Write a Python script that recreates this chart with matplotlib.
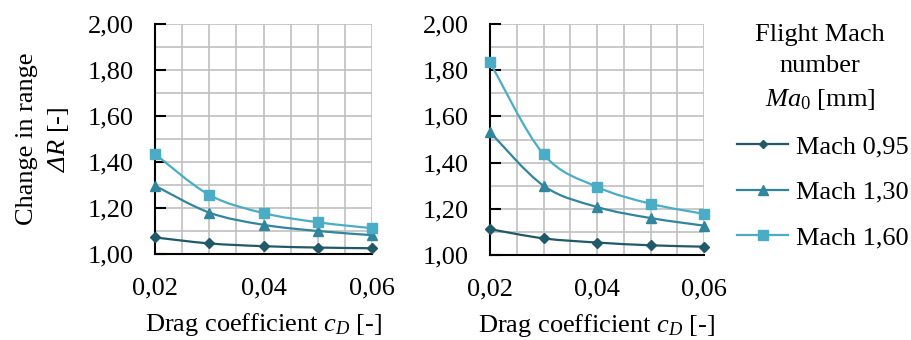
import numpy as np
import matplotlib.pyplot as plt
from matplotlib.path import Path
from matplotlib.patches import PathPatch
from matplotlib.ticker import MultipleLocator, FuncFormatter

plt.rcParams['font.family'] = ['Liberation Serif', 'DejaVu Serif']
plt.rcParams['mathtext.fontset'] = 'custom'
plt.rcParams['mathtext.rm'] = 'Liberation Serif'
plt.rcParams['mathtext.it'] = 'Liberation Serif:italic'
plt.rcParams['mathtext.sf'] = 'Liberation Serif:italic'  # used for the italic Delta

# drag coefficient
cd = [0.02, 0.03, 0.04, 0.05, 0.06]
series_names = ["Mach 0,95", "Mach 1,30", "Mach 1,60"]

# left chart
left_095 = [1.072, 1.046, 1.034, 1.028, 1.025]
left_130 = [1.297, 1.180, 1.127, 1.100, 1.082]
left_160 = [1.435, 1.257, 1.178, 1.138, 1.112]

# right chart
right_095 = [1.112, 1.072, 1.054, 1.042, 1.036]
right_130 = [1.532, 1.300, 1.208, 1.160, 1.127]
right_160 = [1.834, 1.436, 1.295, 1.222, 1.178]

colors = ["#215968", "#31859c", "#4bacc6"]
markers = ["D", "^", "s"]
msizes = [5.5, 7.5, 7.5]
FS = 19


def smooth_path(x, y, t=1/6):
    # bezier through the points (like excel smoothed lines)
    x = np.asarray(x); y = np.asarray(y)
    verts = [(x[0], y[0])]
    codes = [Path.MOVETO]
    n = len(x)
    for i in range(n - 1):
        i0 = max(i - 1, 0); i3 = min(i + 2, n - 1)
        c1 = (x[i] + (x[i+1] - x[i0]) * t, y[i] + (y[i+1] - y[i0]) * t)
        c2 = (x[i+1] - (x[i3] - x[i]) * t, y[i+1] - (y[i3] - y[i]) * t)
        verts += [c1, c2, (x[i+1], y[i+1])]
        codes += [Path.CURVE4] * 3
    return Path(verts, codes)


fig = plt.figure(figsize=(9.11, 3.4), dpi=100)
ax1 = fig.add_axes([155/911, 1 - 254/340, 217/911, 230/340])
ax2 = fig.add_axes([490/911, 1 - 255/340, 214/911, 231/340])

comma = FuncFormatter(lambda v, p: f"{v:.2f}".replace(".", ","))

for ax, data in [(ax1, [left_095, left_130, left_160]), (ax2, [right_095, right_130, right_160])]:
    for ys, c, m, ms, name in zip(data, colors, markers, msizes, series_names):
        ax.add_patch(PathPatch(smooth_path(cd, ys), fc="none", ec=c, lw=1.6, zorder=3, clip_on=False))
        ax.plot(cd, ys, ls="none", marker=m, color=c, ms=ms, zorder=4, clip_on=False)
    ax.set_xlim(0.02, 0.06)
    ax.set_ylim(1.0, 2.0)
    ax.xaxis.set_major_locator(MultipleLocator(0.02))
    ax.xaxis.set_minor_locator(MultipleLocator(0.005))
    ax.yaxis.set_major_locator(MultipleLocator(0.2))
    ax.yaxis.set_minor_locator(MultipleLocator(0.1))
    ax.xaxis.set_major_formatter(comma)
    ax.yaxis.set_major_formatter(comma)
    ax.grid(True, which="both", color="#c0c0c0", lw=1.2, zorder=0)
    ax.set_axisbelow(True)
    for s in ["top", "right"]:
        ax.spines[s].set_visible(False)
    ax.spines["left"].set_linewidth(1.5)
    ax.spines["bottom"].set_linewidth(1.5)
    ax.tick_params(axis="y", which="major", direction="in", length=8, width=1.5, labelsize=FS, pad=15)
    ax.tick_params(axis="y", which="minor", length=0)
    ax.tick_params(axis="x", which="both", length=0, labelsize=FS, pad=17)
    ax.set_xlabel("Drag coefficient $c_D$ [-]", fontsize=FS, labelpad=8)

ax1.set_ylabel("Change in range\n$\\mathsf{Δ}R$ [-]", fontsize=FS, linespacing=1.45, labelpad=12)

# legend title as separate text so the line spacing can be set
fig.text(820/911, 1 - 68/340, "Flight Mach\nnumber\n$Ma_0$ [mm]", fontsize=FS,
         ha="center", va="center", multialignment="center", linespacing=1.5)

handles = [plt.Line2D([], [], color=c, marker=m, ms=ms - 1, lw=1.6) for c, m, ms in zip(colors, markers, msizes)]
fig.legend(handles, series_names, loc="upper left", bbox_to_anchor=(737/911, 1 - 135/340),
           frameon=False, fontsize=FS, handlelength=1.95, handletextpad=0.27, labelspacing=0.83,
           borderpad=0, borderaxespad=0)

fig.savefig("out.png", dpi=100)
